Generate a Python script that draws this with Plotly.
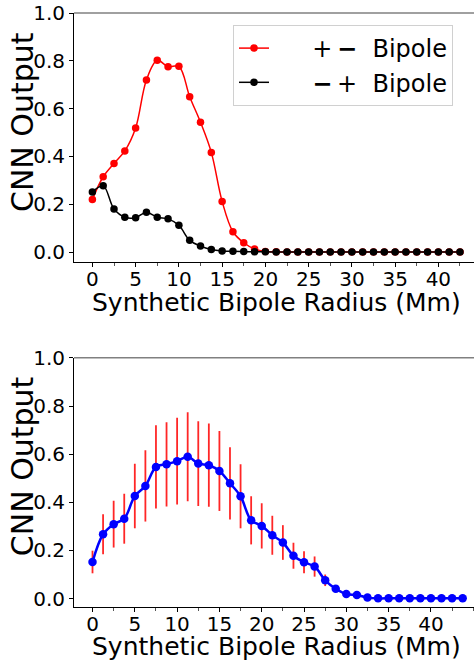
import plotly.graph_objects as go

# ---------------- data ----------------
radius_top = [0, 1.25, 2.5, 3.75, 5, 6.25, 7.5, 8.75, 10, 11.25, 12.5, 13.75, 15, 16.25,
              17.5, 18.75, 20, 21.25, 22.5, 23.75, 25, 26.25, 27.5, 28.75, 30, 31.25,
              32.5, 33.75, 35, 36.25, 37.5, 38.75, 40, 41.25, 42.5]
plus_minus = [0.22, 0.315, 0.371, 0.423, 0.519, 0.72, 0.802, 0.775, 0.777, 0.65, 0.543,
              0.417, 0.212, 0.085, 0.039, 0.013, 0.002, 0.001, 0, 0, 0, 0, 0, 0, 0, 0,
              0, 0, 0, 0, 0, 0, 0, 0, 0]
minus_plus = [0.251, 0.277, 0.18, 0.146, 0.144, 0.167, 0.146, 0.139, 0.112, 0.049, 0.025,
              0.011, 0.005, 0.003, 0.002, 0.001, 0.001, 0, 0, 0, 0, 0, 0, 0, 0, 0,
              0, 0, 0, 0, 0, 0, 0, 0, 0]

radius_bot = [0, 1.25, 2.5, 3.75, 5, 6.25, 7.5, 8.75, 10, 11.25, 12.5, 13.75, 15, 16.25,
              17.5, 18.75, 20, 21.25, 22.5, 23.75, 25, 26.25, 27.5, 28.75, 30, 31.25,
              32.5, 33.75, 35, 36.25, 37.5, 38.75, 40, 41.25, 42.5, 43.75]
mean_out = [0.152, 0.267, 0.309, 0.332, 0.426, 0.468, 0.547, 0.558, 0.571, 0.589, 0.561,
            0.554, 0.53, 0.479, 0.425, 0.325, 0.302, 0.263, 0.233, 0.178, 0.151, 0.133,
            0.076, 0.041, 0.019, 0.015, 0.004, 0.001, 0.001, 0.001, 0.001, 0.001, 0.001,
            0.001, 0.001, 0.001]
std_out = [0.047, 0.083, 0.097, 0.104, 0.134, 0.148, 0.173, 0.175, 0.18, 0.185, 0.176,
           0.173, 0.166, 0.15, 0.133, 0.1, 0.094, 0.081, 0.072, 0.054, 0.046, 0.042,
           0.024, 0.005, 0, 0, 0, 0, 0, 0, 0, 0, 0, 0, 0, 0]

x_ticks = [0, 5, 10, 15, 20, 25, 30, 35, 40]
y_ticks = [0.0, 0.2, 0.4, 0.6, 0.8, 1.0]
x_title = "Synthetic Bipole Radius (Mm)"
y_title = "CNN Output"

FONT = "DejaVu Sans"
NB = "\u00a0"
TH = "\u2009"

fig = go.Figure()

fig.add_trace(go.Scatter(x=radius_top, y=plus_minus, mode="lines+markers",
                         name=NB * 5 + "+" + TH + "<b>−</b>" + NB * 2 + "Bipole",
                         line=dict(color="#ff0000", width=1.5, shape="spline"),
                         marker=dict(color="#ff0000", size=7.5), xaxis="x", yaxis="y"))
fig.add_trace(go.Scatter(x=radius_top, y=minus_plus, mode="lines+markers",
                         name=NB * 5 + "<b>−</b>" + TH + "+" + NB * 2 + "Bipole",
                         line=dict(color="#000000", width=1.5, shape="spline"),
                         marker=dict(color="#000000", size=7.5), xaxis="x", yaxis="y"))

fig.add_trace(go.Scatter(x=radius_bot, y=mean_out, mode="markers", showlegend=False,
                         marker=dict(size=1, opacity=0),
                         error_y=dict(type="data", array=std_out, color="rgba(255,0,0,0.85)",
                                      thickness=1.8, width=0),
                         xaxis="x2", yaxis="y2"))
fig.add_trace(go.Scatter(x=radius_bot, y=mean_out, mode="lines+markers", showlegend=False,
                         line=dict(color="#0000ff", width=2.5, shape="spline"),
                         marker=dict(color="#0000ff", size=8.5), xaxis="x2", yaxis="y2"))

W, H = 474, 660
ml, mt, mb = 74, 13, 53.3
ph = H - mt - mb
pw = W - ml

def py(pix):  # pixel row -> paper y
    return (H - mb - pix) / ph

def px(pix):  # pixel column -> paper x
    return (pix - ml) / pw

def xax(rng, anchor):
    return dict(range=rng, domain=[0, 1], anchor=anchor, tickmode="array", tickvals=x_ticks,
                showgrid=False, zeroline=False, showline=True, linecolor="black", linewidth=1,
                ticks="outside", ticklen=4, tickcolor="black", tickwidth=1, automargin=False,
                ticklabelstandoff=-5,
                tickfont=dict(family=FONT, size=20, color="black"),
                minor=dict(dtick=2.5, tick0=0, ticks="outside", ticklen=3, tickcolor="#555"))

def yax(rng, dom, anchor):
    return dict(range=rng, domain=dom, anchor=anchor, tickmode="array", tickvals=y_ticks,
                tickformat=".1f", showgrid=False, zeroline=False, showline=True,
                linecolor="black", linewidth=1, ticks="outside", ticklen=4, tickcolor="black",
                automargin=False,
                tickfont=dict(family=FONT, size=20, color="black"))

top_dom = [py(262), 1.0]
bot_dom = [0.0, py(357.7)]

annots = []
for spine, off in ((262, 40), (606.7, 39)):
    annots.append(dict(text=x_title, xref="paper", yref="paper", x=px(276), y=py(spine + off),
                       xanchor="center", yanchor="middle", showarrow=False,
                       font=dict(family=FONT, size=25, color="black")))
for center in (122, 466):
    annots.append(dict(text=y_title, xref="paper", yref="paper", x=px(22), y=py(center),
                       xanchor="center", yanchor="middle", textangle=-90, showarrow=False,
                       font=dict(family=FONT, size=30, color="black")))

fig.update_layout(
    width=W, height=H, margin=dict(l=ml, r=0, t=mt, b=mb),
    paper_bgcolor="white", plot_bgcolor="white",
    font=dict(family=FONT, color="black"),
    xaxis=xax([-2.125, 44.12], "y"),
    yaxis=yax([-0.042, 1.0], top_dom, "x"),
    xaxis2=xax([-2.1875, 45.09], "y2"),
    yaxis2=yax([-0.035, 1.0], bot_dom, "x2"),
    legend=dict(x=px(233), y=py(25), xanchor="left", yanchor="top",
                bgcolor="rgba(255,255,255,0.8)", bordercolor="#d0d0d0", borderwidth=1,
                font=dict(family=FONT, size=24, color="black"), tracegroupgap=0),
    annotations=annots,
    shapes=[
        dict(type="line", xref="x domain", yref="y domain", x0=0, x1=1, y0=1, y1=1,
             line=dict(color="#808080", width=1.5)),
        dict(type="line", xref="x2 domain", yref="y2 domain", x0=0, x1=1, y0=1, y1=1,
             line=dict(color="#808080", width=1.5)),
    ],
)

fig.write_html("out.html")
